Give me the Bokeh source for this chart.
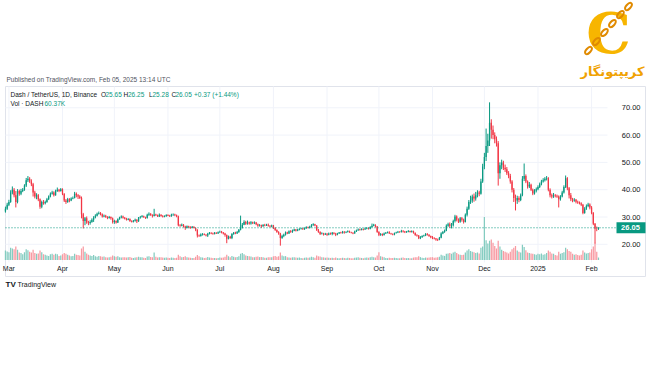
import pandas as pd
from bokeh.plotting import figure
from bokeh.models import Range1d, ColumnDataSource
from bokeh.core.properties import value
from bokeh.embed import file_html
from bokeh.resources import INLINE

# ---------------- DATA (DASH/USDT daily) ----------------
first_open = 32.0

close_feb24 = [33.0, 34.5]
high_feb24 = [33.8, 35.2]
low_feb24 = [31.6, 32.6]
vol_feb24 = [230, 210]

close_mar = [35.5, 39.0, 40.0, 38.0, 35.5, 39.5, 38.5, 39.5, 40.0, 41.5, 43.5, 44.0, 43.0, 42.0, 39.0, 37.5, 38.0, 36.5, 33.8, 35.5, 35.0, 35.5, 36.5, 37.5, 38.5, 39.0, 38.0, 39.5, 40.0, 39.5, 40.2]
high_mar = [36.3, 39.8, 41.2, 40.6, 39.5, 40.2, 40.0, 40.3, 40.6, 42.0, 44.3, 45.0, 44.6, 43.8, 42.5, 39.6, 38.7, 38.4, 36.8, 36.0, 36.2, 36.0, 37.0, 37.9, 39.0, 39.6, 39.4, 40.0, 40.8, 40.3, 40.6]
low_mar = [34.0, 35.2, 38.3, 37.2, 33.5, 35.0, 37.8, 38.0, 39.1, 39.6, 41.0, 42.8, 42.5, 41.3, 37.5, 36.8, 36.5, 35.8, 33.0, 33.2, 34.5, 34.6, 35.2, 36.2, 37.2, 38.2, 37.5, 37.8, 39.2, 39.1, 39.3]
vol_mar = [190, 300, 280, 260, 330, 250, 180, 170, 140, 190, 260, 240, 200, 180, 250, 170, 150, 160, 230, 190, 140, 130, 110, 100, 140, 150, 130, 150, 140, 100, 110]

close_apr = [38.5, 36.0, 35.5, 36.5, 36.0, 36.8, 37.0, 38.5, 38.0, 37.5, 37.0, 31.0, 28.5, 29.5, 28.0, 27.8, 28.2, 29.0, 29.8, 30.5, 31.2, 31.5, 31.0, 30.2, 30.5, 30.0, 29.6, 30.0, 29.5, 28.2]
high_apr = [40.5, 38.7, 36.6, 37.0, 36.9, 37.2, 37.5, 39.2, 39.0, 38.4, 38.0, 37.5, 31.5, 30.0, 30.2, 28.6, 28.8, 29.5, 30.3, 31.0, 31.6, 32.0, 31.8, 31.3, 30.9, 30.8, 30.3, 30.4, 30.2, 29.8]
low_apr = [38.0, 35.5, 34.8, 35.2, 35.4, 35.8, 36.5, 36.8, 37.2, 36.6, 36.6, 29.5, 25.8, 27.0, 27.5, 27.0, 27.2, 27.9, 28.2, 29.5, 30.2, 30.9, 30.6, 29.8, 29.9, 29.7, 29.2, 29.4, 29.0, 27.6]
vol_apr = [140, 170, 150, 130, 110, 90, 100, 150, 130, 120, 110, 280, 330, 200, 160, 130, 110, 100, 120, 90, 80, 100, 90, 80, 85, 70, 60, 65, 80, 110]

close_may = [28.5, 28.0, 29.2, 29.8, 30.2, 29.7, 29.4, 29.0, 29.3, 28.5, 28.3, 28.6, 29.0, 28.4, 29.8, 30.0, 30.3, 29.9, 29.6, 30.8, 31.2, 30.7, 30.4, 30.9, 30.6, 30.2, 30.8, 30.4, 30.1, 30.3, 30.7]
high_may = [29.0, 28.8, 29.5, 30.1, 30.6, 30.5, 30.0, 29.7, 29.6, 29.5, 28.8, 28.9, 29.4, 29.2, 30.0, 30.4, 30.7, 30.5, 30.1, 31.2, 31.7, 31.4, 31.0, 33.0, 31.2, 30.9, 31.3, 31.0, 30.7, 30.6, 31.0]
low_may = [27.5, 27.6, 27.8, 29.0, 29.5, 29.4, 29.1, 28.7, 28.8, 28.2, 28.0, 28.0, 28.3, 27.8, 28.2, 29.4, 29.8, 29.7, 29.3, 29.4, 30.4, 30.4, 29.8, 30.2, 30.4, 30.0, 30.0, 30.1, 29.8, 29.9, 30.1]
vol_may = [90, 80, 90, 70, 60, 65, 70, 60, 65, 75, 55, 50, 60, 65, 80, 70, 65, 55, 50, 85, 90, 75, 70, 180, 80, 60, 70, 65, 60, 55, 60]

close_jun = [30.5, 30.3, 30.8, 30.9, 30.6, 30.2, 27.0, 26.8, 27.2, 26.5, 26.0, 26.6, 26.3, 26.1, 26.4, 26.0, 25.3, 23.2, 23.0, 23.6, 23.8, 23.5, 23.2, 23.9, 24.2, 24.0, 23.8, 24.2, 24.0, 24.4]
high_jun = [31.0, 30.8, 31.2, 31.3, 31.2, 30.9, 30.5, 27.4, 27.6, 27.4, 26.8, 26.9, 26.8, 26.6, 26.7, 26.6, 26.2, 25.5, 23.6, 24.0, 24.1, 24.0, 23.7, 24.2, 24.5, 24.4, 24.3, 24.5, 24.4, 24.7]
low_jun = [30.3, 30.0, 30.1, 30.4, 30.3, 29.9, 26.6, 26.4, 26.6, 26.2, 25.3, 25.8, 25.9, 25.7, 25.9, 25.8, 24.8, 22.5, 22.7, 22.8, 23.2, 23.3, 22.9, 22.7, 23.6, 23.7, 23.5, 23.6, 23.8, 23.8]
vol_jun = [55, 50, 60, 55, 50, 55, 130, 90, 70, 75, 90, 70, 60, 55, 50, 50, 80, 120, 90, 70, 60, 50, 55, 75, 60, 55, 50, 50, 45, 50]

close_jul = [24.6, 24.3, 24.0, 23.4, 22.0, 22.8, 22.3, 23.8, 24.2, 24.0, 24.5, 25.3, 26.0, 27.2, 28.2, 27.5, 28.0, 27.6, 28.1, 27.7, 28.0, 27.3, 26.8, 27.0, 26.6, 27.1, 26.9, 27.2, 26.8, 26.5, 26.9]
high_jul = [25.0, 24.9, 24.5, 24.2, 23.6, 23.2, 23.1, 24.1, 24.5, 24.6, 24.9, 25.6, 30.5, 27.8, 28.8, 28.6, 28.7, 28.3, 28.5, 28.3, 28.4, 28.2, 27.6, 27.4, 27.2, 27.4, 27.5, 27.5, 27.6, 27.0, 27.2]
low_jul = [24.2, 24.0, 23.6, 22.8, 20.4, 21.8, 22.0, 21.9, 23.5, 23.7, 23.8, 24.2, 25.1, 25.8, 27.0, 27.1, 27.2, 27.2, 27.2, 27.4, 27.4, 27.0, 26.4, 26.5, 26.0, 26.4, 26.6, 26.7, 26.5, 26.2, 26.2]
vol_jul = [60, 55, 60, 80, 130, 90, 70, 100, 80, 70, 75, 90, 150, 170, 140, 110, 100, 90, 85, 70, 65, 80, 85, 70, 75, 70, 55, 55, 70, 65, 70]

close_aug = [26.0, 25.2, 24.5, 24.0, 22.3, 23.0, 23.5, 24.3, 24.0, 24.8, 24.5, 25.0, 25.4, 25.0, 25.3, 25.6, 25.8, 25.5, 25.9, 26.2, 26.0, 26.4, 27.0, 27.3, 26.9, 25.2, 24.5, 23.8, 24.0, 23.6, 23.9]
high_aug = [27.1, 26.3, 25.5, 24.8, 24.2, 23.5, 23.9, 24.7, 24.6, 25.1, 25.2, 25.4, 25.7, 25.6, 25.7, 25.9, 26.1, 26.0, 26.2, 26.6, 26.5, 26.8, 27.4, 27.7, 27.5, 27.0, 25.6, 24.8, 24.4, 24.2, 24.2]
low_aug = [25.6, 24.9, 24.2, 23.5, 19.5, 22.0, 22.6, 23.2, 23.7, 23.8, 24.2, 24.2, 24.8, 24.7, 24.8, 25.1, 25.4, 25.3, 25.3, 25.7, 25.8, 25.8, 26.2, 26.8, 26.6, 24.9, 24.2, 23.4, 23.6, 23.2, 23.4]
vol_aug = [90, 100, 80, 90, 180, 110, 90, 95, 70, 60, 55, 65, 70, 60, 55, 60, 50, 45, 55, 60, 55, 60, 80, 70, 55, 110, 90, 85, 70, 65, 55]

close_sep = [23.5, 24.0, 23.8, 24.2, 23.9, 23.5, 24.0, 24.3, 24.1, 24.6, 24.3, 24.5, 24.8, 24.4, 24.2, 24.0, 24.7, 25.1, 25.4, 25.2, 25.6, 25.4, 25.8, 26.0, 25.7, 26.3, 26.8, 27.2, 26.5, 24.5]
high_sep = [24.1, 24.3, 24.3, 24.5, 24.4, 24.2, 24.2, 24.5, 24.6, 24.9, 24.8, 24.8, 25.1, 25.0, 24.6, 24.4, 25.0, 25.4, 25.8, 25.7, 25.9, 25.8, 26.2, 26.3, 26.2, 26.6, 27.6, 27.5, 27.3, 26.7]
low_sep = [23.1, 23.3, 23.5, 23.3, 23.6, 23.0, 23.3, 23.8, 23.9, 23.9, 23.9, 24.1, 24.3, 24.2, 24.0, 23.7, 23.9, 24.5, 25.0, 25.0, 25.1, 25.1, 25.3, 25.5, 25.4, 25.5, 26.1, 26.6, 26.2, 24.2]
vol_sep = [60, 55, 50, 55, 50, 60, 45, 40, 50, 55, 50, 45, 55, 50, 40, 45, 55, 60, 65, 55, 50, 45, 55, 60, 55, 65, 80, 70, 60, 110]

close_oct = [23.5, 23.8, 23.4, 24.0, 24.2, 24.4, 24.0, 23.8, 23.6, 24.1, 24.3, 24.6, 24.5, 24.9, 24.7, 24.4, 24.6, 24.9, 24.5, 24.8, 24.2, 23.4, 23.2, 22.2, 22.6, 23.0, 23.2, 23.8, 23.5, 23.0, 22.6]
high_oct = [24.8, 24.1, 24.0, 24.3, 24.5, 24.7, 24.8, 24.2, 24.0, 24.3, 24.6, 24.9, 24.8, 25.3, 25.2, 24.9, 24.9, 25.2, 25.0, 25.1, 25.0, 24.3, 23.7, 23.4, 23.0, 23.3, 23.5, 24.1, 24.1, 23.7, 23.2]
low_oct = [23.0, 23.1, 23.0, 23.2, 23.8, 24.0, 23.8, 23.5, 23.3, 23.3, 23.9, 24.1, 24.2, 24.3, 24.3, 24.1, 24.2, 24.4, 24.3, 24.3, 23.9, 23.1, 22.8, 21.9, 21.9, 22.4, 22.8, 23.0, 23.2, 22.7, 22.2]
vol_oct = [190, 90, 80, 70, 50, 45, 55, 50, 50, 55, 50, 45, 40, 55, 60, 50, 45, 50, 40, 45, 60, 70, 65, 90, 70, 55, 50, 60, 55, 60, 65]

close_nov = [22.3, 22.1, 21.8, 21.7, 22.4, 24.0, 24.5, 25.0, 26.8, 27.3, 26.8, 27.0, 28.5, 30.2, 29.0, 28.3, 29.5, 29.0, 28.2, 30.8, 33.0, 35.5, 36.0, 37.5, 36.8, 38.0, 39.0, 38.5, 43.0, 48.5]
high_nov = [23.0, 22.6, 22.3, 22.1, 22.7, 24.4, 24.9, 25.4, 27.3, 27.9, 28.0, 27.8, 29.0, 30.8, 30.6, 29.5, 30.0, 30.0, 29.4, 31.3, 33.8, 36.2, 37.8, 38.2, 38.6, 39.2, 39.8, 39.6, 44.0, 49.5]
low_nov = [21.9, 21.8, 21.3, 21.2, 21.5, 22.2, 23.7, 24.2, 24.8, 26.4, 26.0, 25.8, 26.5, 28.0, 28.4, 27.8, 27.9, 28.3, 27.6, 28.0, 30.2, 32.6, 34.8, 35.2, 35.6, 36.0, 37.2, 37.6, 38.2, 42.5]
vol_nov = [70, 55, 60, 70, 80, 130, 110, 100, 150, 160, 170, 150, 180, 200, 170, 140, 130, 120, 130, 180, 230, 260, 220, 200, 190, 170, 180, 160, 300, 330]

close_dec = [52.0, 56.0, 58.0, 64.5, 62.0, 60.0, 58.5, 57.0, 46.0, 49.0, 50.0, 48.0, 47.5, 46.0, 45.0, 43.0, 40.0, 37.0, 36.0, 37.0, 36.2, 38.0, 44.0, 45.0, 43.0, 41.2, 41.8, 40.0, 38.6, 39.6, 40.2]
high_dec = [53.5, 62.4, 60.5, 72.0, 65.8, 63.5, 61.0, 59.5, 57.8, 50.0, 51.0, 50.6, 49.2, 48.3, 46.8, 45.8, 43.5, 40.6, 38.2, 37.8, 37.6, 38.6, 45.0, 49.6, 45.6, 43.4, 42.8, 42.2, 40.4, 40.2, 40.8]
low_dec = [47.5, 50.5, 53.5, 56.0, 58.7, 58.5, 57.0, 55.8, 41.5, 44.0, 47.5, 47.2, 46.5, 45.4, 44.2, 42.2, 39.0, 35.5, 32.4, 34.8, 35.4, 35.8, 37.6, 43.2, 42.4, 40.4, 40.6, 39.5, 38.0, 38.2, 39.0]
vol_dec = [1050, 480, 400, 470, 500, 420, 340, 280, 470, 330, 250, 220, 200, 180, 160, 200, 260, 300, 340, 230, 200, 180, 370, 320, 240, 180, 170, 160, 150, 140, 130]

close_jan = [41.0, 42.0, 43.0, 43.5, 44.0, 44.2, 40.0, 38.0, 37.5, 38.0, 37.8, 37.5, 36.5, 37.5, 39.0, 41.0, 44.2, 40.5, 38.0, 36.5, 36.0, 36.3, 35.6, 35.3, 35.0, 34.5, 31.5, 33.0, 34.0, 34.6, 33.5]
high_jan = [41.6, 42.6, 43.6, 44.2, 44.6, 45.0, 44.6, 40.5, 38.6, 38.8, 38.4, 38.2, 37.9, 38.0, 39.6, 41.6, 45.2, 44.6, 41.0, 38.8, 37.0, 36.9, 36.6, 36.0, 35.7, 35.4, 34.8, 33.6, 34.6, 35.2, 35.0]
low_jan = [39.8, 40.6, 41.6, 42.6, 43.0, 43.4, 39.4, 37.2, 36.8, 37.0, 37.2, 37.0, 33.5, 36.0, 37.2, 38.6, 40.6, 39.8, 36.8, 35.8, 35.4, 35.6, 35.0, 34.8, 34.6, 34.0, 31.0, 31.2, 32.6, 33.6, 32.8]
vol_jan = [150, 140, 160, 130, 140, 170, 230, 200, 160, 150, 120, 110, 200, 150, 170, 190, 300, 260, 220, 200, 150, 130, 140, 120, 110, 130, 230, 180, 160, 170, 180]

close_feb25 = [31.5, 27.5, 25.7, 25.68, 26.05]
high_feb25 = [34.0, 31.8, 27.8, 26.5, 26.25]
low_feb25 = [31.0, 27.0, 20.3, 24.8, 25.28]
vol_feb25 = [260, 330, 420, 200, 60.37]

months = [
    ("2024-02-28", close_feb24, high_feb24, low_feb24, vol_feb24),
    ("2024-03-01", close_mar, high_mar, low_mar, vol_mar),
    ("2024-04-01", close_apr, high_apr, low_apr, vol_apr),
    ("2024-05-01", close_may, high_may, low_may, vol_may),
    ("2024-06-01", close_jun, high_jun, low_jun, vol_jun),
    ("2024-07-01", close_jul, high_jul, low_jul, vol_jul),
    ("2024-08-01", close_aug, high_aug, low_aug, vol_aug),
    ("2024-09-01", close_sep, high_sep, low_sep, vol_sep),
    ("2024-10-01", close_oct, high_oct, low_oct, vol_oct),
    ("2024-11-01", close_nov, high_nov, low_nov, vol_nov),
    ("2024-12-01", close_dec, high_dec, low_dec, vol_dec),
    ("2025-01-01", close_jan, high_jan, low_jan, vol_jan),
    ("2025-02-01", close_feb25, high_feb25, low_feb25, vol_feb25),
]

month_labels = ["Mar", "Apr", "May", "Jun", "Jul", "Aug", "Sep", "Oct", "Nov", "Dec", "2025", "Feb"]
month_dates = ["2024-03-01", "2024-04-01", "2024-05-01", "2024-06-01", "2024-07-01", "2024-08-01",
               "2024-09-01", "2024-10-01", "2024-11-01", "2024-12-01", "2025-01-01", "2025-02-01"]
price_ticks = [20, 30, 40, 50, 60, 70]

# ---------------- build series ----------------
EPOCH = pd.Timestamp("1970-01-01")
DAY = 86400000.0


def ms(ts):
    return (pd.Timestamp(ts) - EPOCH).total_seconds() * 1000.0


xs, opens, highs, lows, closes, vols = [], [], [], [], [], []
prev = first_open
for start, cl, hi, lo, vo in months:
    for i, (c, h, l, v) in enumerate(zip(cl, hi, lo, vo)):
        xs.append(ms(start) + i * DAY)
        opens.append(prev)
        closes.append(c)
        highs.append(h)
        lows.append(l)
        vols.append(v)
        prev = c

UP, DOWN = "#089981", "#f23645"
UP_V, DOWN_V = "#84ccc0", "#f89aa2"
cols = [UP if c >= o else DOWN for o, c in zip(opens, closes)]
vcols = [UP_V if c >= o else DOWN_V for o, c in zip(opens, closes)]
src = ColumnDataSource(dict(
    x=xs, o=opens, h=highs, l=lows, c=closes, v=vols,
    top=[max(o, c) for o, c in zip(opens, closes)],
    bot=[min(o, c) for o, c in zip(opens, closes)],
    col=cols, vcol=vcols))

# ---------------- layout (canvas pixel coordinates) ----------------
W, H = 650, 365
PX_PER_DAY = 1.729
X_MAR1 = 8.4
PLOT_LEFT, PLOT_RIGHT = 5, 607
t_start = ms("2024-03-01") - (X_MAR1 - PLOT_LEFT) / PX_PER_DAY * DAY
t_end = t_start + (PLOT_RIGHT - PLOT_LEFT) / PX_PER_DAY * DAY

Y_P20 = 243.8
PX_PER_UNIT = 2.73
p_top = 20 + Y_P20 / PX_PER_UNIT
p_bot = 20 - (H - Y_P20) / PX_PER_UNIT

VOL_BASE = 259.5
K_PER_PX = 24.4
v_top = VOL_BASE * K_PER_PX
v_bot = -(H - VOL_BASE) * K_PER_PX

p = figure(width=W, height=H, x_range=Range1d(0, W), y_range=Range1d(H, 0),
           tools="", toolbar_location=None, output_backend="svg",
           x_axis_location=None, y_axis_location=None, min_border=0,
           outline_line_color=None, background_fill_color="white",
           border_fill_color="white")
p.grid.visible = False
# the date scale spans the chart pane only: map it onto the pane's pixel span
p.extra_x_ranges = {"t": Range1d(t_start - PLOT_LEFT / PX_PER_DAY * DAY,
                                 t_end + (W - PLOT_RIGHT) / PX_PER_DAY * DAY)}
p.extra_y_ranges = {"p": Range1d(p_bot, p_top), "v": Range1d(v_bot, v_top)}

FONT = value("Liberation Sans")
TXT = "#131722"

# chart border
p.quad(left=5, right=645, top=86, bottom=276, fill_color=None, line_color="#e0e3eb", line_width=1)

# grid
p.segment(x0=PLOT_LEFT, x1=PLOT_RIGHT, y0=price_ticks, y1=price_ticks, y_range_name="p",
          line_color="#f0f3fa", line_width=1)
mx = [ms(d) for d in month_dates]
p.segment(x0=mx, x1=mx, y0=86, y1=262, x_range_name="t", line_color="#f0f3fa", line_width=1)

# volume
p.vbar(x="x", top="v", bottom=0, width=0.72 * DAY, source=src, x_range_name="t", y_range_name="v",
       fill_color="vcol", line_color=None)

# candles
p.segment(x0="x", x1="x", y0="h", y1="l", source=src, x_range_name="t", y_range_name="p",
          line_color="col", line_width=1)
p.vbar(x="x", top="top", bottom="bot", width=0.75 * DAY, source=src, x_range_name="t", y_range_name="p",
       fill_color="col", line_color=None)

last_close = closes[-1]
# last price line + box
p.segment(x0=PLOT_LEFT, x1=616, y0=last_close, y1=last_close, y_range_name="p",
          line_color="#089981", line_dash="1 2", line_width=1)
p.rect(x=630.5, y=last_close, width=29, height=11, height_units="screen", y_range_name="p",
       fill_color="#089981", line_color=None)
p.text(x=[630], y=[last_close], text=[f"{last_close:.2f}"], y_range_name="p",
       text_align="center", text_baseline="middle", text_font=FONT, text_font_size="7.5px",
       text_color="white", text_font_style="bold")

# price axis labels
p.text(x=640, y=price_ticks, text=[f"{t:.2f}" for t in price_ticks], y_range_name="p",
       text_align="right", text_baseline="middle", text_font=FONT, text_font_size="7.5px",
       text_color=TXT)

# time axis labels
p.text(x=mx, y=268, text=month_labels, x_range_name="t", text_align="center",
       text_baseline="middle", text_font=FONT, text_font_size="7px", text_color=TXT)

# header
p.text(x=[6], y=[79], text=["Published on TradingView.com, Feb 05, 2025 13:14 UTC"],
       text_baseline="middle", text_font=FONT, text_font_size="6.5px", text_color="#50535e")
p.text(x=[10, 100.5, 123, 148.5, 171], y=[94] * 5,
       text=["Dash / TetherUS, 1D, Binance", "O", "H", "L", "C"],
       text_baseline="middle", text_font=FONT, text_font_size="6.5px", text_color=TXT)
p.text(x=[105, 127.5, 152, 175, 193.5], y=[94] * 5,
       text=["25.65", "26.25", "25.28", "26.05", "+0.37 (+1.44%)"],
       text_baseline="middle", text_font=FONT, text_font_size="6.5px", text_color=UP)
p.text(x=[10], y=[103], text=["Vol · DASH"], text_baseline="middle", text_font=FONT,
       text_font_size="6.5px", text_color=TXT)
p.text(x=[44], y=[103], text=["60.37K"], text_baseline="middle", text_font=FONT,
       text_font_size="6.5px", text_color=UP)

# footer
p.text(x=[5], y=[284], text=["TV"], text_baseline="middle", text_font=FONT,
       text_font_size="8px", text_font_style="bold", text_color="#131722")
p.text(x=[17], y=[284], text=["TradingView"], text_baseline="middle", text_font=FONT,
       text_font_size="7px", text_color="#131722")

# logo (top right)
p.text(x=[608], y=[32], text=["C"], text_align="center", text_baseline="middle",
       text_font=value("DejaVu Serif"), text_font_size="56px", text_font_style="bold",
       text_color="#f7b500")
p.ellipse(x=[588, 596, 604, 612, 620, 628], y=[50, 41, 32, 23, 14, 6], width=8.5, height=4.5,
          angle=0.84, fill_color=None, line_color="#e08a00", line_width=2)
p.text(x=[644], y=[71], text=["کریپتونگار"], text_align="right", text_baseline="middle",
       text_font=value("DejaVu Sans"), text_font_size="13px", text_font_style="bold",
       text_color="#f0a202")

open("out.html", "w").write(file_html(p, INLINE))
